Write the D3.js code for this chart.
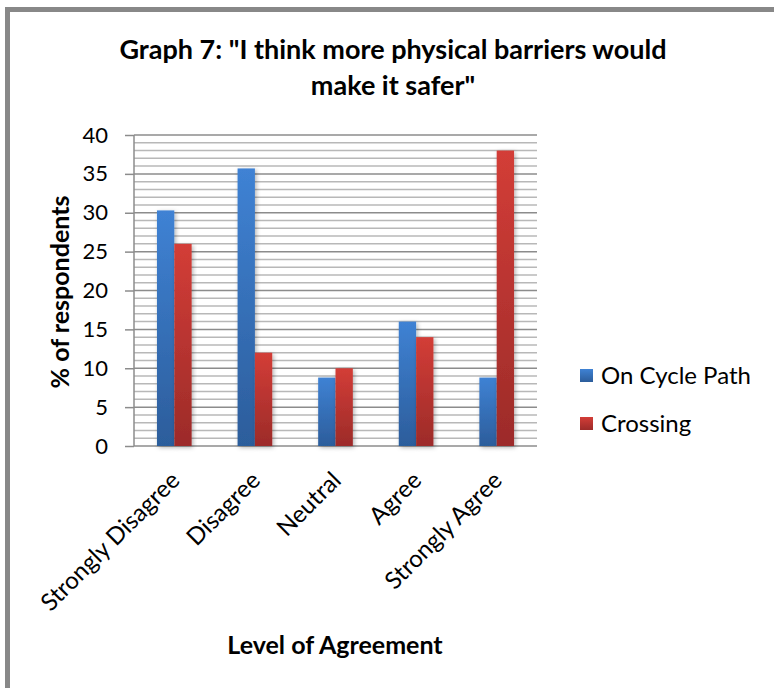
<!DOCTYPE html>
<html><head><meta charset="utf-8">
<script src="https://cdn.jsdelivr.net/npm/d3@7"></script>
<style>
html,body{margin:0;padding:0;background:#fff;}
svg{display:block;font-family:Lato, "Open Sans", sans-serif;}
</style></head>
<body>
<svg id="c" width="774" height="688"></svg>
<script>
const categories = ["Strongly Disagree","Disagree","Neutral","Agree","Strongly Agree"];
const seriesNames = ["On Cycle Path","Crossing"];
const onCyclePath = [30.3, 35.7, 8.8, 16.0, 8.8];
const crossing = [26.0, 12.0, 10.0, 14.0, 38.0];
const yTicks = [0,5,10,15,20,25,30,35,40];
const titleLines = ["Graph 7: \"I think more physical barriers would", "make it safer\""];
const yTitle = "% of respondents";
const xTitle = "Level of Agreement";

const svg = d3.select("#c");
const L = 134, R = 537, T = 135, B = 446;

// defs: gradients + shadow
const defs = svg.append("defs");
const grads = [["gBlue","#3f82d4","#2c5d9b"],["gRed","#d33d37","#9c2b29"]];
grads.forEach(([id,c1,c2])=>{
  const g = defs.append("linearGradient").attr("id",id).attr("x1",0).attr("y1",0).attr("x2",0).attr("y2",1);
  g.append("stop").attr("offset","0%").attr("stop-color",c1);
  g.append("stop").attr("offset","100%").attr("stop-color",c2);
});
const f = defs.append("filter").attr("id","sh").attr("x","-30%").attr("y","-10%").attr("width","160%").attr("height","130%");
f.append("feDropShadow").attr("dx",1.5).attr("dy",1.5).attr("stdDeviation",2).attr("flood-color","#000").attr("flood-opacity",0.3);

// frame border (top and left)
svg.append("line").attr("x1",5).attr("x2",774).attr("y1",9.5).attr("y2",9.5).attr("stroke","#888").attr("stroke-width",5);
svg.append("line").attr("x1",7.5).attr("x2",7.5).attr("y1",7).attr("y2",688).attr("stroke","#888").attr("stroke-width",5);

const y = d3.scaleLinear().domain([0,40]).range([B,T]);
const x0 = d3.scaleBand().domain(categories).range([L,R]).padding(0);
const bw = x0.bandwidth();
const x1 = d3.scaleBand().domain(seriesNames).range([bw*0.285, bw*0.715]).padding(0);

// minor gridlines
const minor = d3.range(1,40).filter(v=>v%5!==0);
svg.append("g").selectAll("line").data(minor).join("line")
  .attr("x1",L).attr("x2",R).attr("y1",d=>y(d)).attr("y2",d=>y(d))
  .attr("stroke","#b8b8b8").attr("stroke-width",1.5);
// major gridlines
svg.append("g").selectAll("line").data(yTicks.filter(v=>v>0)).join("line")
  .attr("x1",L).attr("x2",R).attr("y1",d=>y(d)).attr("y2",d=>y(d))
  .attr("stroke","#8c8c8c").attr("stroke-width",1.5);

// y axis
const yAxis = d3.axisLeft(y).tickValues(yTicks).tickSize(9).tickPadding(17);
const gy = svg.append("g").attr("transform",`translate(${L},0)`).call(yAxis);
gy.select(".domain").attr("stroke","#8c8c8c").attr("stroke-width",1.5).attr("d",`M0,${T}V${B}`);
gy.selectAll(".tick line").attr("stroke","#8c8c8c").attr("stroke-width",1.5);
gy.selectAll(".tick text").attr("font-family","Lato").attr("font-size",22).attr("fill","#000");

// x axis line
svg.append("line").attr("x1",L).attr("x2",R).attr("y1",B).attr("y2",B).attr("stroke","#8c8c8c").attr("stroke-width",1.5);

// bars
const data = categories.map((c,i)=>({cat:c, vals:[onCyclePath[i], crossing[i]]}));
const fills = ["url(#gBlue)","url(#gRed)"];
const groups = svg.append("g").selectAll("g").data(data).join("g")
  .attr("transform",d=>`translate(${x0(d.cat)},0)`);
groups.selectAll("rect").data(d=>d.vals.map((v,k)=>({s:seriesNames[k],v,k}))).join("rect")
  .attr("x",d=>x1(d.s)).attr("width",x1.bandwidth())
  .attr("y",d=>y(d.v)).attr("height",d=>B-y(d.v))
  .attr("fill",d=>fills[d.k]).attr("filter","url(#sh)");

// x category labels
svg.append("g").selectAll("text").data(categories).join("text")
  .attr("transform",d=>`translate(${x0(d)+bw/2-5},${B+24}) rotate(-45)`)
  .attr("text-anchor","end").attr("dy","0.7em")
  .attr("font-size",24).attr("fill","#000").text(d=>d);

// title
svg.append("g").selectAll("text").data(titleLines).join("text")
  .attr("x",393).attr("y",(d,i)=>59+i*36).attr("text-anchor","middle")
  .attr("font-size",27).attr("font-weight","bold").attr("fill","#000").text(d=>d);

// y title
svg.append("text").attr("transform","translate(69,292) rotate(-90)")
  .attr("text-anchor","middle").attr("font-size",25).attr("font-weight","bold").attr("fill","#000").text(yTitle);

// x title
svg.append("text").attr("x",335).attr("y",654).attr("text-anchor","middle")
  .attr("font-size",25).attr("font-weight","bold").attr("fill","#000").text(xTitle);

// legend
const leg = svg.append("g").selectAll("g").data(seriesNames).join("g")
  .attr("transform",(d,i)=>`translate(580,${376+i*48})`);
leg.append("rect").attr("x",0).attr("y",-7).attr("width",13).attr("height",13).attr("fill",(d,i)=>fills[i]);
leg.append("text").attr("x",21).attr("y",8).attr("font-size",24).attr("fill","#000").text(d=>d);
</script>
</body></html>
